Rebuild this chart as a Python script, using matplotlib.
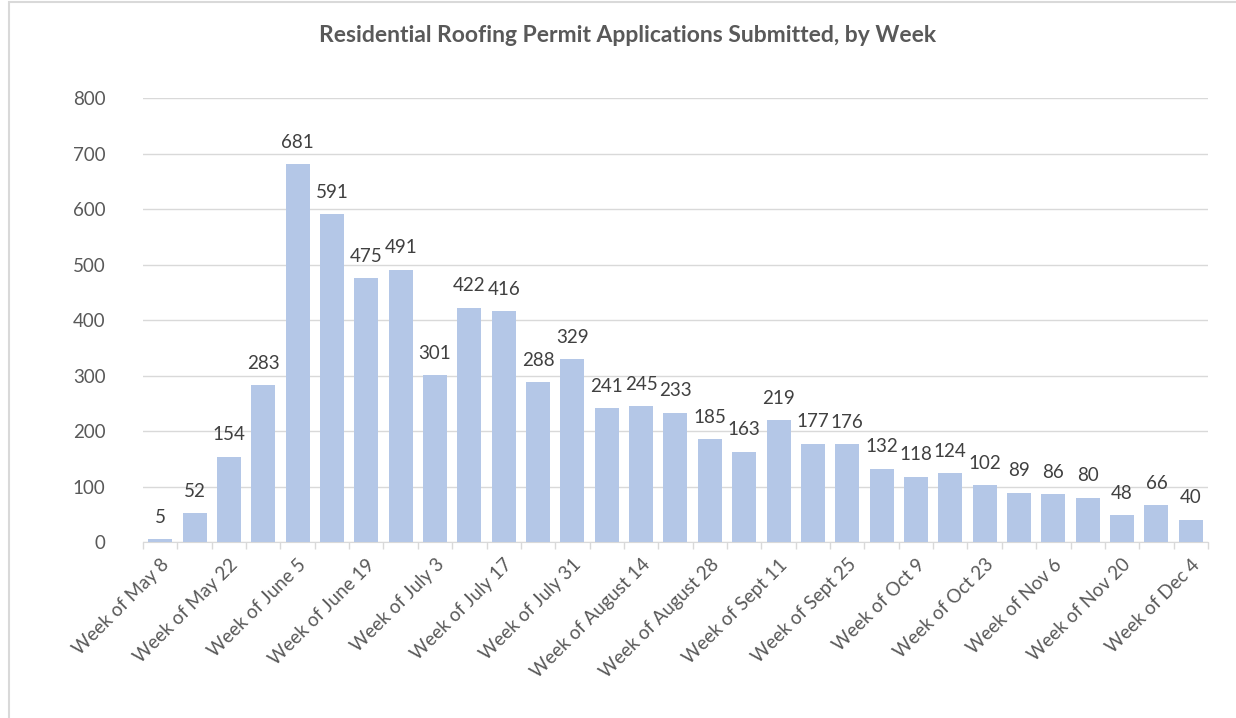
import numpy as np
import matplotlib.pyplot as plt
from matplotlib.patches import Rectangle

# weekly counts, Week of May 8 .. Week of Dec 4
weeks = ['Week of May 8', 'Week of May 15', 'Week of May 22', 'Week of May 29',
         'Week of June 5', 'Week of June 12', 'Week of June 19', 'Week of June 26',
         'Week of July 3', 'Week of July 10', 'Week of July 17', 'Week of July 24',
         'Week of July 31', 'Week of August 7', 'Week of August 14', 'Week of August 21',
         'Week of August 28', 'Week of Sept 4', 'Week of Sept 11', 'Week of Sept 18',
         'Week of Sept 25', 'Week of Oct 2', 'Week of Oct 9', 'Week of Oct 16',
         'Week of Oct 23', 'Week of Oct 30', 'Week of Nov 6', 'Week of Nov 13',
         'Week of Nov 20', 'Week of Nov 27', 'Week of Dec 4']
permits = [5, 52, 154, 283, 681, 591, 475, 491, 301, 422, 416, 288, 329, 241, 245,
           233, 185, 163, 219, 177, 176, 132, 118, 124, 102, 89, 86, 80, 48, 66, 40]

plt.rcParams['font.family'] = ['Lato', 'DejaVu Sans']

fig = plt.figure(figsize=(12.36, 7.18), dpi=100)
ax = fig.add_axes([0.1157, 0.2451, 0.9773 - 0.1157, 0.8635 - 0.2451])

# chart frame (only top/left edges fall inside the image)
fig.patches.append(Rectangle((9 / 1236, -0.1), 1.2, 1.1 - 2 / 718,
                             transform=fig.transFigure, fill=False,
                             edgecolor='#D9D9D9', linewidth=1.5))

x = np.arange(len(permits))
ax.bar(x, permits, width=0.7, color='#B4C7E7', zorder=3)

for xi, v in zip(x, permits):
    ax.text(xi, v + 24, str(v), ha='center', va='bottom', fontsize=13.5, color='#404040')

ax.set_xlim(-0.5, len(permits) - 0.5)
ax.set_ylim(0, 800)
ax.set_yticks(range(0, 801, 100))
ax.yaxis.grid(True, color='#D9D9D9', linewidth=1)
ax.set_axisbelow(True)
ax.tick_params(axis='y', length=0, labelsize=13.5, labelcolor='#595959', pad=27)

# category labels on every other bar, boundary ticks between bars
ax.set_xticks(x[::2])
ax.set_xticklabels(weeks[::2], rotation=45, ha='right', rotation_mode='anchor',
                   fontsize=13.5, color='#595959')
ax.set_xticks(np.arange(-0.5, len(permits)), minor=True)
ax.tick_params(axis='x', which='major', length=0, pad=10)
ax.tick_params(axis='x', which='minor', length=5, color='#D9D9D9', width=1)

for s in ['top', 'right', 'left']:
    ax.spines[s].set_visible(False)
ax.spines['bottom'].set_color('#D9D9D9')

fig.text(0.5 * (318 + 937) / 1236, 1 - 36 / 718,
         'Residential Roofing Permit Applications Submitted, by Week',
         ha='center', va='center', fontsize=16.5, fontweight='bold', color='#595959')

fig.savefig('out.png', dpi=100)
